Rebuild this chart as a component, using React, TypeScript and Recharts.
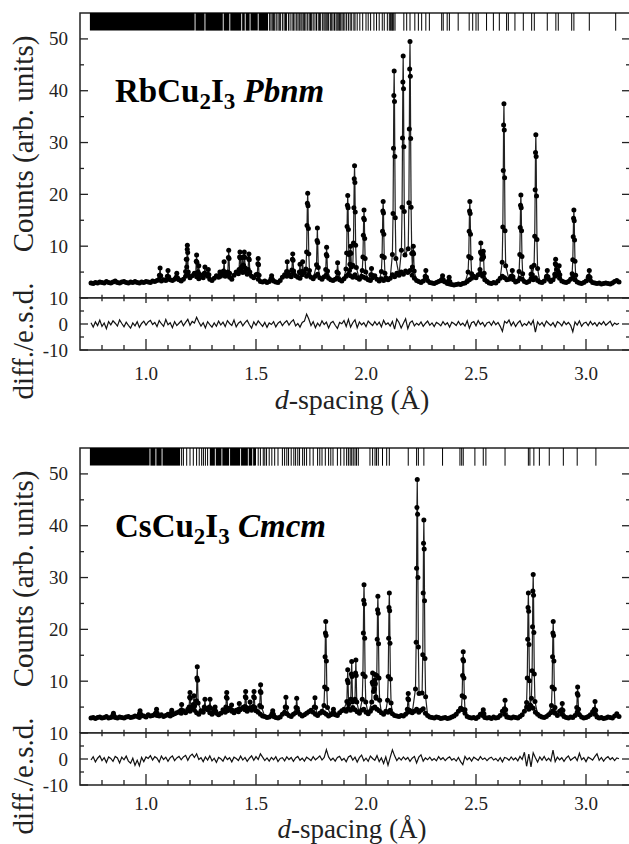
import { ComposedChart, Line, Scatter, XAxis, YAxis, ReferenceArea } from 'recharts';

// d-spacing range and sampling grid of the background / difference traces
const D_MIN = 0.7;
const D_MAX = 3.2;
const GRID_START = 0.75;
const GRID_STEP = 0.01;

const dTicks = [0.8, 0.9, 1.0, 1.1, 1.2, 1.3, 1.4, 1.5, 1.6, 1.7, 1.8, 1.9, 2.0, 2.1, 2.2, 2.3, 2.4, 2.5, 2.6, 2.7, 2.8, 2.9, 3.0, 3.1];
const dLabels = [1.0, 1.5, 2.0, 2.5, 3.0];
const countTicks = [5, 10, 15, 20, 25, 30, 35, 40, 45, 50];
const countLabels = [10, 20, 30, 40, 50];
const diffTicks = [-10, -5, 0, 5, 10];
const diffLabels = [-10, 0, 10];

// ---------- RbCu2I3 ----------
const rbBg = [
  2.9, 2.8, 3.0, 2.9, 3.1, 3.0, 2.9, 3.2, 3.0, 2.9,
  3.1, 3.3, 3.0, 2.9, 3.1, 3.2, 3.0, 2.9, 3.1, 3.0,
  3.2, 3.0, 2.9, 3.1, 3.0, 3.2, 3.1, 3.0, 3.3, 3.2,
  3.4, 3.6, 3.3, 3.5, 3.4, 3.7, 3.5, 3.4, 3.6, 3.8,
  3.5, 3.3, 3.6, 4.2, 4.5, 3.9, 4.3, 4.8, 4.1, 3.7,
  4.4, 3.9, 4.6, 4.2, 3.6, 3.4, 3.8, 4.3, 4.0, 4.5,
  4.8, 4.2, 4.5, 4.0, 3.6, 4.4, 5.0, 4.7, 5.2, 4.9,
  5.1, 4.6, 4.8, 4.2, 3.9, 4.5, 3.6, 3.2, 3.1, 3.3,
  3.0, 3.2, 3.6, 3.3, 3.1, 3.0, 3.4, 4.0, 4.5, 4.2,
  4.6, 4.1, 4.8, 4.3, 4.0, 3.8, 4.5, 4.9, 4.2, 4.6,
  4.0, 3.7, 4.2, 4.6, 3.9, 3.6, 4.1, 4.4, 3.8, 3.5,
  3.4, 3.6, 3.9, 3.5, 3.3, 3.7, 4.2, 4.6, 4.3, 4.0,
  4.5, 3.9, 3.6, 4.2, 4.0, 3.8, 3.5, 3.4, 3.9, 4.3,
  3.6, 3.3, 3.7, 3.4, 3.9, 3.5, 3.8, 4.5, 4.1, 4.8,
  4.4, 5.0, 4.6, 5.2, 4.9, 5.3, 4.4, 3.8, 3.4, 3.2,
  3.0, 3.3, 3.9, 3.4, 3.0, 2.9, 2.8, 3.0, 3.2, 3.4,
  3.3, 3.1, 2.8, 2.7, 2.6, 2.5, 2.6, 2.7, 2.6, 2.8,
  2.9, 3.2, 3.5, 3.8, 4.2, 3.9, 4.5, 4.8, 4.2, 3.5,
  3.2, 2.9, 2.8, 3.0, 2.9, 3.3, 3.8, 4.2, 3.9, 3.5,
  3.6, 4.2, 3.5, 3.1, 3.3, 3.8, 3.6, 3.2, 3.0, 3.2,
  3.7, 3.5, 3.9, 3.4, 3.1, 3.0, 3.3, 4.0, 3.6, 3.2,
  3.5, 4.2, 4.5, 3.8, 3.3, 3.1, 3.0, 3.2, 3.6, 3.9,
  3.5, 3.1, 2.9, 2.8, 3.0, 3.3, 4.0, 3.4, 3.0, 2.9,
  2.8, 2.9, 2.7, 2.8, 2.9, 2.8, 2.7, 2.9, 3.2, 3.4,
  3.1,
];

const rbPeaks: [number, number][] = [
  [1.061, 4.4], [1.064, 5.8], [1.067, 4.3],
  [1.097, 4.2], [1.1, 5.3], [1.103, 4.1],
  [1.137, 4.0], [1.14, 4.8], [1.143, 3.9],
  [1.18, 5.1], [1.183, 7.5], [1.185, 6.0],
  [1.186, 7.5], [1.1875, 9.4], [1.188, 10.2], [1.1895, 8.8], [1.192, 5.0],
  [1.226, 4.7], [1.2285, 7.1], [1.23, 8.3], [1.2315, 6.9], [1.234, 4.5],
  [1.237, 5.0], [1.24, 6.2], [1.243, 4.6],
  [1.265, 4.8], [1.268, 6.0], [1.271, 4.7],
  [1.28, 4.6], [1.283, 5.5], [1.286, 4.5],
  [1.333, 4.3], [1.336, 5.0], [1.339, 4.2],
  [1.352, 5.2], [1.355, 7.0], [1.358, 5.0],
  [1.372, 5.0], [1.3745, 7.8], [1.376, 9.2], [1.3775, 7.6], [1.38, 4.8],
  [1.423, 5.5], [1.4255, 7.9], [1.427, 8.9], [1.4285, 7.7], [1.431, 5.6],
  [1.434, 6.0], [1.437, 7.8], [1.44, 6.2],
  [1.4435, 6.3], [1.4455, 8.0], [1.447, 8.9], [1.4485, 7.8], [1.451, 5.8],
  [1.464, 5.5], [1.4665, 7.6], [1.468, 8.5], [1.4695, 7.4], [1.472, 5.0],
  [1.506, 4.6], [1.5085, 6.6], [1.51, 7.6], [1.5115, 6.4], [1.514, 4.4],
  [1.568, 3.7], [1.571, 4.3], [1.574, 3.6],
  [1.639, 5.1], [1.642, 7.0], [1.645, 5.0],
  [1.663, 5.4], [1.6655, 7.5], [1.667, 8.5], [1.6685, 7.3], [1.671, 5.2],
  [1.697, 5.0], [1.7, 6.5], [1.703, 4.8],
  [1.709, 5.1], [1.712, 7.0], [1.715, 5.0],
  [1.727, 5.6], [1.73, 8.9], [1.732, 14.0], [1.7335, 18.3], [1.735, 20.2], [1.7365, 17.8], [1.738, 13.4], [1.74, 8.5], [1.743, 5.3],
  [1.775, 6.4], [1.7775, 11.1], [1.779, 13.5], [1.7805, 10.7], [1.783, 5.9],
  [1.817, 5.5], [1.8195, 8.4], [1.821, 9.8], [1.8225, 8.1], [1.825, 5.2],
  [1.868, 5.0], [1.871, 6.8], [1.874, 4.8],
  [1.909, 5.6], [1.912, 8.7], [1.914, 13.8], [1.9155, 17.9], [1.917, 19.8], [1.9185, 17.4], [1.92, 13.2], [1.922, 8.4], [1.925, 5.3],
  [1.927, 6.5], [1.9285, 8.8], [1.93, 10.0], [1.9315, 8.6], [1.934, 6.0],
  [1.94, 6.3], [1.943, 10.6], [1.945, 17.4], [1.9465, 23.0], [1.948, 25.5], [1.9495, 22.3], [1.951, 16.6], [1.953, 10.2], [1.956, 5.9],
  [1.983, 5.3], [1.986, 7.9], [1.988, 12.1], [1.9895, 15.4], [1.991, 17.0], [1.9925, 15.1], [1.994, 11.5], [1.996, 7.6], [1.999, 5.0],
  [2.022, 4.5], [2.025, 5.7], [2.028, 4.4],
  [2.07, 5.1], [2.073, 8.1], [2.075, 12.9], [2.0765, 16.8], [2.078, 18.6], [2.0795, 16.4], [2.081, 12.3], [2.083, 7.8], [2.086, 4.8],
  [2.12, 8.4], [2.123, 16.3], [2.125, 28.9], [2.1265, 39.1], [2.128, 43.8], [2.1295, 37.9], [2.131, 27.3], [2.133, 15.5], [2.136, 7.6],
  [2.161, 9.2], [2.164, 17.5], [2.166, 30.9], [2.1675, 41.7], [2.169, 46.7], [2.1705, 40.4], [2.172, 29.2], [2.174, 16.7], [2.177, 8.3],
  [2.192, 9.5], [2.195, 18.4], [2.197, 32.6], [2.1985, 44.2], [2.2, 49.5], [2.2015, 42.8], [2.203, 30.8], [2.205, 17.5], [2.208, 8.6],
  [2.211, 6.0], [2.2135, 8.8], [2.215, 10.0], [2.2165, 8.5], [2.219, 5.2],
  [2.269, 4.2], [2.272, 5.3], [2.275, 4.0],
  [2.345, 3.6], [2.348, 4.3], [2.351, 3.5],
  [2.375, 3.3], [2.378, 4.0], [2.381, 3.2],
  [2.464, 5.0], [2.467, 8.0], [2.469, 12.9], [2.4705, 16.8], [2.472, 18.6], [2.4735, 16.3], [2.475, 12.3], [2.477, 7.7], [2.48, 4.7],
  [2.518, 5.5], [2.5205, 8.9], [2.522, 10.6], [2.5235, 8.6], [2.526, 7.5],
  [2.53, 7.6], [2.5315, 8.4], [2.533, 9.0], [2.5345, 7.9], [2.537, 4.8],
  [2.619, 6.9], [2.622, 13.7], [2.624, 24.6], [2.6255, 33.4], [2.627, 37.5], [2.6285, 32.4], [2.63, 23.2], [2.632, 13.0], [2.635, 6.2],
  [2.662, 4.2], [2.665, 5.3], [2.668, 4.1],
  [2.696, 5.1], [2.699, 8.4], [2.701, 13.6], [2.7025, 17.9], [2.704, 19.9], [2.7055, 17.4], [2.707, 13.0], [2.709, 8.0], [2.712, 4.7],
  [2.75, 4.6], [2.753, 6.0], [2.756, 4.5],
  [2.764, 6.3], [2.767, 11.9], [2.769, 20.9], [2.7705, 28.1], [2.772, 31.5], [2.7735, 27.3], [2.775, 19.7], [2.777, 11.3], [2.78, 5.7],
  [2.821, 4.2], [2.824, 5.3], [2.827, 4.1],
  [2.858, 4.6], [2.8605, 6.6], [2.862, 7.5], [2.8635, 6.4], [2.866, 5.5],
  [2.875, 5.0], [2.878, 6.2], [2.881, 4.5],
  [2.937, 4.7], [2.94, 7.4], [2.942, 11.8], [2.9435, 15.4], [2.945, 17.0], [2.9465, 14.9], [2.948, 11.2], [2.95, 7.1], [2.953, 4.4],
  [3.012, 4.2], [3.015, 5.3], [3.018, 4.0],
];

const rbDiff = [
  0.5, -1.2, 0.8, -0.6, 1.5, -0.9, 0.4, -1.8, 0.9, -0.3,
  1.2, 0.3, -0.8, 1.6, 0.2, -1.1, 0.7, -0.5, -1.6, 0.4,
  -0.7, 0.9, -1.3, 0.2, 1.1, -0.4, 0.8, 1.4, -0.2, 0.6,
  -1.0, 1.3, 0.1, -0.9, 1.7, -0.3, 0.5, -1.4, 0.9, -0.6,
  0.3, 1.2, -0.7, 0.6, 1.8, -0.5, 1.0, 0.4, 2.6, 0.8,
  -0.8, 0.5, -1.5, 0.9, -0.2, -1.2, 0.4, -0.9, 1.1, -0.4,
  0.7, -1.0, 1.3, 0.2, -0.6, 1.5, -1.1, 0.3, 1.0, -0.7,
  0.5, 1.4, -0.3, -1.6, 0.8, -0.5, 1.2, 0.1, -0.9, 0.6,
  -1.3, 0.4, -0.2, 0.9, -1.1, 0.3, 1.0, -0.6, 0.5, 1.3,
  -0.4, 0.8, 1.6, -0.7, 0.2, -1.2, 0.6, 1.1, 3.8, 1.9,
  -0.6, 0.9, -1.4, 0.3, -0.8, 1.2, -0.2, 0.7, -1.5, 0.4,
  1.0, -0.5, -1.7, 0.6, 0.1, 1.3, -0.9, 1.8, -1.2, 0.5,
  1.6, -1.4, 0.8, -0.3, 0.5, -1.0, 1.1, 0.2, -0.6, 0.9,
  -0.4, 0.7, -1.1, 1.4, -0.2, 0.4, -0.8, 1.0, -2.0, 1.9,
  0.6, -1.5, 0.3, 2.0, -1.8, 0.5, 1.2, -0.7, 0.3, -0.4,
  0.8, -0.9, 0.2, 1.1, -0.5, 0.4, -1.0, 0.6, 0.1, -0.7,
  0.9, -0.3, 0.5, -1.2, 0.7, 0.2, -0.6, 1.0, -0.4, 0.3,
  -0.8, 1.2, -1.6, 0.5, 0.9, -0.7, 1.3, -0.2, 0.6, -1.0,
  0.4, 0.8, -0.5, 1.1, -0.3, 0.6, -0.9, -2.8, 1.0, 0.3,
  1.5, -0.6, 0.8, -1.0, 0.4, 1.2, -0.8, 0.2, -0.5, 0.9,
  -0.3, 1.4, -3.1, 0.8, -0.4, 0.6, -0.9, 1.1, 0.2, -0.6,
  0.5, -1.1, 0.9, 0.3, -0.7, 1.0, -0.2, 0.6, -0.5, -3.0,
  0.8, -0.4, 1.2, -0.9, 0.3, 0.7, -0.6, 1.0, -0.3, 0.5,
  -0.8, 0.6, -0.2, 0.9, -0.5, 0.3, 1.1, -0.7, 0.4, -0.2,
  0.3,
];

const rbTickBlocks: [number, number][] = [
  [0.745, 1.221], [1.225, 1.266], [1.27, 1.349], [1.353, 1.379], [1.383, 1.433],
  [1.437, 1.449], [1.453, 1.471], [1.475, 1.508], [1.512, 1.555],
];
const rbTicks = [
  1.562, 1.568, 1.574, 1.58, 1.585, 1.592, 1.6, 1.606, 1.612, 1.621, 1.628, 1.634, 1.639, 1.648,
  1.655, 1.664, 1.67, 1.677, 1.685, 1.691, 1.697, 1.704, 1.709, 1.715, 1.721, 1.727, 1.735, 1.742,
  1.748, 1.753, 1.76, 1.768, 1.775, 1.783, 1.789, 1.794, 1.803, 1.809, 1.814, 1.819, 1.824, 1.83,
  1.838, 1.844, 1.85, 1.857, 1.864, 1.869, 1.874, 1.88, 1.885, 1.891, 1.897, 1.904, 1.912, 1.92,
  1.928, 1.935, 1.945, 1.95, 1.96, 1.972, 1.985, 2.0, 2.01, 2.021, 2.036, 2.048, 2.06, 2.074,
  2.083, 2.097, 2.106, 2.112, 2.117, 2.121, 2.126, 2.132, 2.172, 2.185, 2.2, 2.222, 2.238, 2.253,
  2.272, 2.288, 2.344, 2.351, 2.369, 2.379, 2.419, 2.469, 2.485, 2.5, 2.51, 2.548, 2.579, 2.606,
  2.639, 2.647, 2.677, 2.715, 2.753, 2.765, 2.824, 2.863, 2.874, 2.935, 2.945, 3.015, 3.135,
];

// ---------- CsCu2I3 ----------
const csBg = [
  2.9, 3.0, 2.8, 3.0, 3.1, 2.9, 3.0, 3.2, 2.9, 3.0,
  3.2, 3.0, 2.9, 3.1, 3.0, 2.9, 3.1, 3.2, 3.0, 3.1,
  3.3, 3.2, 3.0, 3.4, 3.3, 3.1, 3.5, 3.3, 3.4, 3.6,
  3.4, 3.3, 3.5, 3.2, 3.4, 3.6, 3.3, 3.5, 3.7, 3.9,
  4.1, 3.8, 4.3, 3.9, 4.6, 4.2, 5.0, 4.4, 3.9, 3.6,
  4.3, 4.0, 4.7, 4.5, 3.9, 3.6, 4.2, 3.8, 3.5, 3.8,
  4.5, 4.0, 4.3, 4.8, 4.2, 3.9, 4.4, 4.1, 4.6, 4.9,
  4.5, 4.2, 4.7, 4.4, 4.8, 4.3, 4.0, 3.6, 3.3, 3.2,
  3.0, 3.1, 3.4, 3.2, 3.0, 2.9, 3.1, 3.6, 4.0, 3.7,
  3.4, 3.2, 3.6, 3.9, 4.2, 3.6, 3.3, 3.5, 3.8, 4.1,
  4.4, 4.0, 3.6, 3.4, 3.8, 4.2, 3.9, 3.6, 3.3, 3.5,
  3.8, 3.5, 3.4, 3.9, 4.3, 4.6, 4.2, 4.8, 4.4, 4.9,
  4.5, 4.1, 3.8, 4.4, 4.6, 4.0, 3.7, 4.2, 4.8, 5.0,
  4.6, 4.3, 3.9, 3.6, 4.2, 4.0, 4.4, 3.7, 3.4, 3.3,
  3.2, 3.4, 3.3, 3.6, 4.0, 4.3, 3.9, 4.2, 4.6, 4.0,
  4.4, 4.7, 3.8, 3.4, 3.1, 3.0, 2.9, 3.1, 3.0, 2.8,
  2.9, 3.0, 2.8, 2.9, 3.1, 3.3, 3.6, 4.2, 4.8, 4.5,
  3.8, 3.2, 3.0, 2.9, 3.0, 2.8, 3.1, 3.6, 3.4, 3.0,
  2.9, 3.0, 2.8, 3.1, 2.9, 3.0, 3.4, 4.2, 3.6, 3.1,
  3.0, 2.9, 3.1, 3.0, 2.9, 3.2, 3.5, 4.2, 5.0, 4.6,
  5.2, 4.8, 4.0, 3.6, 3.3, 3.1, 3.0, 3.2, 3.5, 3.9,
  4.3, 3.8, 3.4, 4.2, 3.6, 3.2, 3.0, 2.9, 3.1, 3.0,
  3.4, 4.0, 3.5, 3.1, 2.9, 3.0, 3.2, 3.5, 4.1, 3.6,
  3.1, 2.9, 3.0, 2.8, 2.9, 3.1, 3.0, 2.9, 3.3, 3.7,
  3.2,
];

const csPeaks: [number, number][] = [
  [0.849, 3.4], [0.852, 3.8], [0.855, 3.3],
  [0.97, 3.7], [0.973, 4.3], [0.976, 3.6],
  [1.045, 3.9], [1.048, 4.6], [1.051, 3.8],
  [1.114, 3.8], [1.117, 4.4], [1.12, 3.7],
  [1.159, 4.4], [1.162, 5.5], [1.165, 4.3],
  [1.196, 5.0], [1.1985, 6.9], [1.2, 7.8], [1.2015, 6.7], [1.204, 4.8],
  [1.215, 5.5], [1.218, 7.2], [1.221, 5.2],
  [1.229, 6.2], [1.2315, 10.6], [1.233, 12.8], [1.2345, 10.2], [1.237, 5.8],
  [1.265, 5.0], [1.268, 6.5], [1.271, 4.8],
  [1.288, 5.0], [1.291, 6.5], [1.294, 4.8],
  [1.311, 4.3], [1.314, 5.0], [1.317, 4.2],
  [1.363, 5.0], [1.3655, 6.9], [1.367, 7.8], [1.3685, 6.7], [1.371, 4.8],
  [1.386, 4.5], [1.389, 5.4], [1.392, 4.4],
  [1.421, 4.6], [1.424, 5.7], [1.427, 4.5],
  [1.449, 5.1], [1.4515, 7.0], [1.453, 8.0], [1.4545, 6.8], [1.457, 4.9],
  [1.47, 4.8], [1.473, 6.0], [1.476, 4.7],
  [1.487, 5.1], [1.4895, 7.0], [1.491, 8.0], [1.4925, 6.8], [1.495, 4.9],
  [1.517, 5.3], [1.5195, 8.0], [1.521, 9.3], [1.5225, 7.8], [1.525, 5.0],
  [1.573, 3.7], [1.576, 4.3], [1.579, 3.6],
  [1.633, 5.0], [1.636, 6.9], [1.639, 4.9],
  [1.682, 4.9], [1.685, 6.7], [1.688, 4.8],
  [1.765, 5.0], [1.768, 6.8], [1.771, 4.9],
  [1.809, 5.3], [1.812, 8.9], [1.814, 14.7], [1.8155, 19.3], [1.817, 21.5], [1.8185, 18.8], [1.82, 13.9], [1.822, 8.5], [1.825, 4.9],
  [1.849, 3.9], [1.852, 4.6], [1.855, 3.8],
  [1.913, 6.1], [1.9155, 10.2], [1.917, 12.2], [1.9185, 9.7], [1.921, 5.6],
  [1.931, 6.5], [1.9335, 11.4], [1.935, 13.8], [1.9365, 10.9], [1.939, 6.0],
  [1.95, 6.5], [1.9525, 11.6], [1.954, 14.1], [1.9555, 11.1], [1.958, 6.0],
  [1.983, 6.5], [1.986, 11.4], [1.988, 19.3], [1.9895, 25.6], [1.991, 28.6], [1.9925, 24.9], [1.994, 18.3], [1.996, 10.9], [1.999, 6.0],
  [2.026, 6.0], [2.0285, 9.8], [2.03, 11.6], [2.0315, 9.4], [2.034, 8.0],
  [2.038, 8.5], [2.0395, 10.2], [2.041, 11.3], [2.0425, 9.5], [2.045, 7.0],
  [2.046, 6.7], [2.049, 11.1], [2.051, 18.1], [2.0525, 23.8], [2.054, 26.4], [2.0555, 23.1], [2.057, 17.2], [2.059, 10.6], [2.062, 6.3],
  [2.098, 6.3], [2.101, 10.9], [2.103, 18.3], [2.1045, 24.2], [2.106, 27.0], [2.1075, 23.6], [2.109, 17.3], [2.111, 10.4], [2.114, 5.8],
  [2.188, 4.6], [2.1905, 6.6], [2.192, 7.6], [2.1935, 6.4], [2.196, 4.4],
  [2.225, 8.5], [2.228, 17.5], [2.23, 31.8], [2.2315, 43.5], [2.233, 48.9], [2.2345, 42.2], [2.236, 30.0], [2.238, 16.6], [2.241, 7.6],
  [2.255, 7.7], [2.258, 15.1], [2.26, 27.0], [2.2615, 36.6], [2.263, 41.1], [2.2645, 35.5], [2.266, 25.5], [2.268, 14.4], [2.271, 7.0],
  [2.434, 4.7], [2.437, 7.2], [2.439, 11.1], [2.4405, 14.2], [2.442, 15.7], [2.4435, 13.9], [2.445, 10.6], [2.447, 6.9], [2.45, 4.5],
  [2.53, 3.8], [2.533, 4.5], [2.536, 3.7],
  [2.629, 4.7], [2.632, 6.3], [2.635, 4.5],
  [2.73, 5.9], [2.733, 10.6], [2.735, 18.1], [2.7365, 24.2], [2.738, 27.0], [2.7395, 23.5], [2.741, 17.1], [2.743, 10.1], [2.746, 5.4],
  [2.752, 6.7], [2.755, 12.0], [2.757, 20.5], [2.7585, 27.4], [2.76, 30.6], [2.7615, 26.6], [2.763, 19.4], [2.765, 11.4], [2.768, 6.1],
  [2.843, 5.3], [2.846, 8.9], [2.848, 14.7], [2.8495, 19.3], [2.851, 21.5], [2.8525, 18.8], [2.854, 13.9], [2.856, 8.5], [2.859, 4.9],
  [2.889, 4.5], [2.892, 5.7], [2.895, 4.4],
  [2.958, 4.9], [2.9605, 7.6], [2.962, 8.9], [2.9635, 7.3], [2.966, 4.6],
  [3.038, 4.6], [3.041, 6.1], [3.044, 4.4],
];

const csDiff = [
  -0.4, 0.9, -1.1, 0.3, 1.2, -0.6, 0.5, -1.3, 0.8, 0.2,
  -0.9, 1.0, 0.4, -1.5, 0.7, -0.3, 1.1, -0.8, -1.6, 0.3,
  -2.4, -0.5, -2.6, 0.6, -1.0, 0.8, 0.2, 1.3, -0.4, 0.9,
  0.3, -1.2, 1.1, -0.2, 0.7, -0.9, 0.5, 1.2, -0.6, 0.4,
  1.0, -0.3, 0.8, 1.4, -0.5, 1.1, 1.9, 0.6, 2.0, -0.2,
  0.5, -1.0, 0.8, -0.4, 1.2, -0.7, 0.3, -1.3, 0.6, 0.1,
  -0.8, 1.0, -0.2, 0.5, -1.1, 0.7, 0.2, -0.6, 1.1, -0.4,
  0.6, -0.9, 0.3, 1.2, -0.5, 0.9, -0.2, 2.0, 0.7, -0.6,
  0.4, -0.8, 0.6, -0.3, 0.9, -1.0, 0.2, 0.5, -0.7, 0.8,
  -0.2, 0.6, -0.9, 0.4, 1.0, -0.5, 0.3, -0.8, 0.7, 0.1,
  -0.6, 0.9, -0.3, 0.4, 1.2, -0.4, 0.6, 3.6, 0.8, -0.5,
  0.3, -0.8, 0.6, 1.0, -0.5, 0.2, -1.1, 0.8, 1.3, -0.4,
  0.7, -1.2, 0.5, 1.5, -0.7, 0.3, -0.9, 1.1, 0.2, -0.5,
  1.3, -1.0, 0.4, -1.7, 0.8, -2.4, 0.6, 3.5, 1.2, -0.6,
  0.5, -0.4, 0.8, -0.2, 0.6, -0.9, 0.3, 1.0, -1.5, 0.7,
  1.6, -0.8, 0.4, -0.3, 0.7, -0.5, 0.2, -0.7, 0.9, -0.2,
  0.5, -0.6, 0.3, 0.8, -0.4, 0.2, -0.8, 0.6, -1.0, -2.2,
  1.0, -0.3, 0.5, -0.8, 0.7, 0.1, -0.5, 0.9, -0.2, 0.4,
  -0.6, 0.3, 0.7, -0.4, 0.2, -0.8, 0.5, -1.1, 0.6, 0.3,
  -0.5, 0.8, -0.3, 0.4, -0.7, 1.0, -0.2, 2.6, -2.8, 1.9,
  -3.0, 2.4, 0.5, -1.2, 0.8, -0.4, 1.0, -0.6, 0.3, -0.8,
  3.4, -1.0, 0.7, -0.3, 0.5, -0.9, 0.4, 1.2, -0.5, 0.2,
  0.8, -0.6, 2.2, -0.3, 0.5, -1.0, 0.7, 0.2, -0.4, 0.9,
  2.0, -0.5, 0.6, -0.8, 0.3, 0.9, -0.2, 0.5, -0.6, 0.4,
  0.1,
];

const csTickBlocks: [number, number][] = [
  [0.745, 1.016], [1.02, 1.043], [1.047, 1.071], [1.075, 1.155],
  [1.29, 1.313], [1.317, 1.343], [1.347, 1.378], [1.382, 1.428], [1.432, 1.463], [1.467, 1.483], [1.487, 1.5],
];
const csTicks = [
  1.162, 1.17, 1.185, 1.2, 1.215, 1.23, 1.242, 1.253, 1.261, 1.27, 1.28,
  1.51, 1.52, 1.533, 1.54, 1.548, 1.56, 1.572, 1.585, 1.6, 1.62, 1.63, 1.64, 1.648, 1.66, 1.672,
  1.68, 1.69, 1.698, 1.712, 1.72, 1.73, 1.745, 1.76, 1.78, 1.79, 1.8, 1.815, 1.83, 1.84, 1.85,
  1.87, 1.885, 1.9, 1.912, 1.92, 1.928, 1.935, 1.942, 1.95, 1.957, 1.965, 2.018, 2.03, 2.041,
  2.048, 2.056, 2.075, 2.094, 2.106, 2.192, 2.23, 2.238, 2.263, 2.348, 2.427, 2.435, 2.442,
  2.495, 2.533, 2.545, 2.632, 2.738, 2.745, 2.763, 2.788, 2.833, 2.897, 2.96, 3.045,
];

// ---------- layout ----------
const PLOT_LEFT = 80;
const PLOT_W = 550;
const MAIN_TOP = 13;
const MAIN_H = 285;
const DIFF_H = 52;
const DIFF_SVG_H = 130;
const TICK_LO = 51.6;
const REFL_TICK_PX = 17.7;
const FONT = '"Liberation Serif", "Times New Roman", serif';
const INK = '#222';

const grid = (vals: number[]) =>
  vals.map((c, i) => ({ d: Math.round((GRID_START + i * GRID_STEP) * 1000) / 1000, c }));

function buildCalc(bg: { d: number; c: number }[], peaks: [number, number][]) {
  const pk = peaks.map(([d, c]) => ({ d, c }));
  const keep = bg.filter((p) => !pk.some((q) => Math.abs(q.d - p.d) < 0.006));
  return [...keep, ...pk].sort((a, b) => a.d - b.d);
}

const near = (list: number[], v: number) => list.some((m) => Math.abs(m - v) < 1e-6);

// y ticks point inwards on both the left and the right edge of the frame
const makeYTick = (labels: number[]) => (p: any) => {
  const v = p.payload.value;
  const major = near(labels, v);
  const len = major ? 8 : 4;
  return (
    <g>
      <line x1={p.x} x2={p.x + len} y1={p.y} y2={p.y} stroke={INK} strokeWidth={1.3} />
      <line x1={p.x + PLOT_W} x2={p.x + PLOT_W - len} y1={p.y} y2={p.y} stroke={INK} strokeWidth={1.3} />
      {major && (
        <text x={p.x - 12} y={p.y + 6.5} textAnchor="end" fontFamily={FONT} fontSize={19} fill={INK}>
          {v}
        </text>
      )}
    </g>
  );
};
const CountTick = makeYTick(countLabels);
const DiffTick = makeYTick(diffLabels);

// x ticks: upward on the bottom edge, both ways on the main/diff separator
const makeDTick = (labelDy: number) => (p: any) => {
  const v = p.payload.value;
  const major = near(dLabels, v);
  const up = major ? 11 : 5;
  const half = major ? 5 : 3.3;
  const top = p.y - DIFF_H;
  return (
    <g>
      <line x1={p.x} x2={p.x} y1={p.y} y2={p.y - up} stroke={INK} strokeWidth={1.3} />
      <line x1={p.x} x2={p.x} y1={top - half} y2={top + half} stroke={INK} strokeWidth={1.3} />
      {major && (
        <text x={p.x} y={p.y + labelDy} textAnchor="middle" fontFamily={FONT} fontSize={19} fill={INK}>
          {v.toFixed(1)}
        </text>
      )}
    </g>
  );
};

const ObsDot = (p: any) => <circle cx={p.cx} cy={p.cy} r={2.5} fill="#000" />;
const ReflTick = (p: any) => (
  <line x1={p.cx} x2={p.cx} y1={p.cy} y2={p.cy + REFL_TICK_PX} stroke="#000" strokeWidth={1} />
);

type PanelProps = {
  top: number;
  bg: number[];
  peaks: [number, number][];
  diff: number[];
  blocks: [number, number][];
  ticks: number[];
  labelDy: number;
};

function Panel({ top, bg, peaks, diff, blocks, ticks, labelDy }: PanelProps) {
  const bgPts = grid(bg);
  const obs = [...bgPts, ...peaks.map(([d, c]) => ({ d, c }))];
  const calc = buildCalc(bgPts, peaks);
  const diffPts = grid(diff);
  const tickPts = ticks.map((d) => ({ d, c: 55 }));
  const DTick = makeDTick(labelDy);

  return (
    <>
      <div style={{ position: 'absolute', left: 0, top }}>
        <ComposedChart
          width={PLOT_LEFT + PLOT_W}
          height={MAIN_TOP + MAIN_H}
          margin={{ top: MAIN_TOP, right: 0, bottom: 0, left: PLOT_LEFT - 1 }}
        >
          <XAxis type="number" dataKey="d" domain={[D_MIN, D_MAX]} hide allowDataOverflow />
          <YAxis
            type="number"
            dataKey="c"
            domain={[0, 55]}
            ticks={countTicks}
            interval={0}
            width={1}
            tickSize={0}
            tickMargin={0}
            axisLine={false}
            tickLine={false}
            tick={CountTick}
            allowDataOverflow
          />
          <ReferenceArea x1={D_MIN} x2={D_MAX} y1={0} y2={55} fill="none" stroke={INK} strokeWidth={1.5} />
          {blocks.map(([a, b], i) => (
            <ReferenceArea key={i} x1={a} x2={b} y1={TICK_LO} y2={55} fill="#000" fillOpacity={1} stroke="none" />
          ))}
          <Scatter data={tickPts} dataKey="c" shape={ReflTick} isAnimationActive={false} />
          <Line
            data={calc}
            dataKey="c"
            type="linear"
            stroke="#222"
            strokeWidth={1.2}
            dot={false}
            isAnimationActive={false}
          />
          <Scatter data={obs} dataKey="c" shape={ObsDot} isAnimationActive={false} />
        </ComposedChart>
      </div>
      <div style={{ position: 'absolute', left: 0, top: top + MAIN_TOP + MAIN_H - 10 }}>
        <ComposedChart
          width={PLOT_LEFT + PLOT_W}
          height={DIFF_SVG_H}
          margin={{ top: 10, right: 0, bottom: DIFF_SVG_H - 10 - DIFF_H - 1, left: PLOT_LEFT - 1 }}
        >
          <XAxis
            type="number"
            dataKey="d"
            domain={[D_MIN, D_MAX]}
            ticks={dTicks}
            interval={0}
            height={1}
            tickSize={0}
            tickMargin={0}
            axisLine={false}
            tickLine={false}
            tick={DTick}
            allowDataOverflow
          />
          <YAxis
            type="number"
            dataKey="c"
            domain={[-10, 10]}
            ticks={diffTicks}
            interval={0}
            width={1}
            tickSize={0}
            tickMargin={0}
            axisLine={false}
            tickLine={false}
            tick={DiffTick}
            allowDataOverflow
          />
          <ReferenceArea x1={D_MIN} x2={D_MAX} y1={-10} y2={10} fill="none" stroke={INK} strokeWidth={1.5} />
          <Line
            data={diffPts}
            dataKey="c"
            type="linear"
            stroke="#111"
            strokeWidth={1.2}
            dot={false}
            isAnimationActive={false}
          />
        </ComposedChart>
      </div>
    </>
  );
}

function Labels(
  { dy, head, group, xLabelY, xLabelSize }: { dy: number; head: string; group: string; xLabelY: number; xLabelSize: number },
) {
  return (
    <g fontFamily={FONT} fill="#000">
      <text x={115} y={101.7 + dy} fontSize={33} fontWeight="bold">
        {head}
        <tspan dy={7} fontSize={23}>2</tspan>
        <tspan dy={-7}>I</tspan>
        <tspan dy={7} fontSize={23}>3</tspan>
        <tspan dy={-7}> </tspan>
        <tspan fontStyle="italic">{group}</tspan>
      </text>
      <text transform={`translate(33,${144 + dy}) rotate(-90)`} textAnchor="middle" fontSize={29} fill={INK}>
        Counts (arb. units)
      </text>
      <text transform={`translate(33,${341 + dy}) rotate(-90)`} textAnchor="middle" fontSize={29} fill={INK}>
        diff./e.s.d.
      </text>
      <text x={352} y={xLabelY} textAnchor="middle" fontSize={xLabelSize} fill={INK}>
        <tspan fontStyle="italic">d</tspan>-spacing (Å)
      </text>
    </g>
  );
}

export default function App() {
  return (
    <div
      style={{
        position: 'absolute',
        left: 0,
        top: 0,
        width: 629,
        height: 844,
        overflow: 'hidden',
        background: '#fff',
      }}
    >
      <Panel top={0} bg={rbBg} peaks={rbPeaks} diff={rbDiff} blocks={rbTickBlocks} ticks={rbTicks} labelDy={30} />
      <Panel top={435} bg={csBg} peaks={csPeaks} diff={csDiff} blocks={csTickBlocks} ticks={csTicks} labelDy={25} />
      <svg
        width={629}
        height={844}
        style={{ position: 'absolute', left: 0, top: 0, pointerEvents: 'none' }}
      >
        <Labels dy={0} head="RbCu" group="Pbnm" xLabelY={409} xLabelSize={28} />
        <Labels dy={435} head="CsCu" group="Cmcm" xLabelY={838.3} xLabelSize={27} />
      </svg>
    </div>
  );
}
